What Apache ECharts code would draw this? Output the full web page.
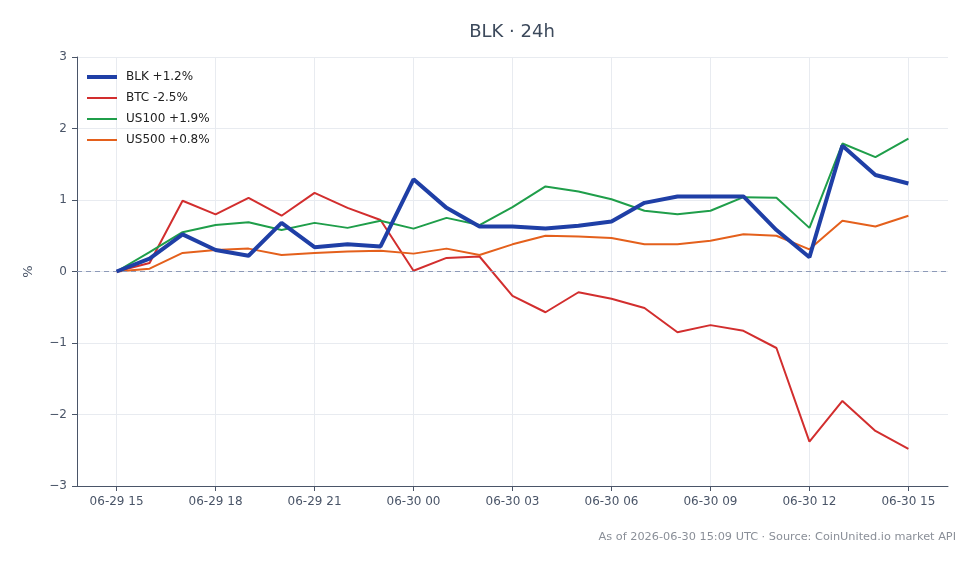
<!DOCTYPE html>
<html>
<head>
<meta charset="utf-8">
<title>BLK · 24h</title>
<script src="https://cdn.jsdelivr.net/npm/echarts@6/dist/echarts.min.js"></script>
<style>
  html, body { margin: 0; padding: 0; background: #fff; }
  #chart { width: 980px; height: 564px; }
</style>
</head>
<body>
<div id="chart"></div>
<script>
// hourly points, 06-29 15:00 -> 06-30 15:00
var hours = ['06-29 15', '06-29 16', '06-29 17', '06-29 18', '06-29 19', '06-29 20', '06-29 21',
  '06-29 22', '06-29 23', '06-30 00', '06-30 01', '06-30 02', '06-30 03', '06-30 04', '06-30 05',
  '06-30 06', '06-30 07', '06-30 08', '06-30 09', '06-30 10', '06-30 11', '06-30 12', '06-30 13',
  '06-30 14', '06-30 15'];
var tickHours = [0, 3, 6, 9, 12, 15, 18, 21, 24];

var seriesNames = ['BLK +1.2%', 'BTC -2.5%', 'US100 +1.9%', 'US500 +0.8%'];
var blk = [0, 0.18, 0.52, 0.30, 0.22, 0.68, 0.34, 0.38, 0.35, 1.29, 0.89, 0.63, 0.63, 0.60, 0.64,
  0.70, 0.96, 1.05, 1.05, 1.05, 0.58, 0.20, 1.76, 1.35, 1.23];
var btc = [0, 0.12, 0.99, 0.80, 1.03, 0.78, 1.10, 0.89, 0.72, 0.01, 0.19, 0.21, -0.34, -0.57, -0.29,
  -0.38, -0.51, -0.85, -0.75, -0.83, -1.07, -2.38, -1.81, -2.23, -2.48];
var us100 = [0, 0.27, 0.55, 0.65, 0.69, 0.58, 0.68, 0.61, 0.71, 0.60, 0.75, 0.65, 0.90, 1.19, 1.12,
  1.01, 0.85, 0.80, 0.85, 1.04, 1.03, 0.61, 1.79, 1.60, 1.86];
var us500 = [0, 0.04, 0.26, 0.30, 0.32, 0.23, 0.26, 0.28, 0.29, 0.25, 0.32, 0.23, 0.38, 0.50, 0.49,
  0.47, 0.38, 0.38, 0.43, 0.52, 0.50, 0.31, 0.71, 0.63, 0.78];

var colors = ['#1f3fa6', '#d22e2e', '#1f9e4a', '#e4601c'];
var widths = [4, 2, 2, 2];

function pairs(arr) {
  return arr.map(function (v, i) { return [i, v]; });
}

var axisColor = '#4a5568';
var chart = echarts.init(document.getElementById('chart'));

var series = [blk, btc, us100, us500].map(function (arr, k) {
  return {
    name: seriesNames[k],
    type: 'line',
    data: pairs(arr),
    showSymbol: false,
    symbol: 'none',
    z: k === 0 ? 5 : 3,
    lineStyle: { color: colors[k], width: widths[k] },
    itemStyle: { color: colors[k] }
  };
});
// dashed zero line
series[0].markLine = {
  silent: true,
  symbol: 'none',
  label: { show: false },
  lineStyle: { color: '#8d9ab8', type: [5, 4], width: 1 },
  data: [{ yAxis: 0 }]
};

// one legend per entry so each icon can have its own thickness
var legends = seriesNames.map(function (name, k) {
  return {
    data: [name],
    left: 82,
    top: 66 + k * 21,
    icon: 'rect',
    itemWidth: 30,
    itemHeight: widths[k],
    itemGap: 0,
    selectedMode: false,
    textStyle: { fontSize: 12, color: '#222', padding: [0, 0, 0, 4] }
  };
});

var option = {
  animation: false,
  textStyle: { fontFamily: 'DejaVu Sans' },
  title: [{
    text: 'BLK · 24h',
    left: 507,
    top: 18,
    textAlign: 'center',
    textStyle: { fontSize: 18, fontWeight: 'normal', color: '#3d4a5c' }
  }, {
    text: 'As of 2026-06-30 15:09 UTC · Source: CoinUnited.io market API',
    right: 19,
    top: 527,
    textStyle: { fontSize: 11.3, fontWeight: 'normal', color: '#8a8f98' }
  }],
  legend: legends,
  grid: { left: 77, right: 32, top: 57, bottom: 78, containLabel: false },
  xAxis: {
    type: 'value',
    min: -1.2,
    max: 25.2,
    axisLine: { show: true, onZero: false, lineStyle: { color: axisColor, width: 1 } },
    axisTick: { show: true, customValues: tickHours, length: 5, lineStyle: { color: axisColor } },
    axisLabel: {
      customValues: tickHours,
      margin: 10,
      fontSize: 12,
      color: axisColor,
      formatter: function (v) { return hours[Math.round(v)]; }
    },
    splitLine: { show: true, lineStyle: { color: '#e8ebf0', width: 1 } }
  },
  yAxis: {
    type: 'value',
    min: -3,
    max: 3,
    interval: 1,
    name: '%',
    nameLocation: 'middle',
    nameGap: 42,
    nameRotate: 90,
    nameTextStyle: { fontSize: 13, color: axisColor },
    axisLine: { show: true, onZero: false, lineStyle: { color: axisColor, width: 1 } },
    axisTick: { show: true, length: 5, lineStyle: { color: axisColor } },
    axisLabel: {
      fontSize: 12,
      margin: 10,
      color: axisColor,
      formatter: function (v) { return v < 0 ? '\u2212' + Math.abs(v) : String(v); }
    },
    splitLine: { show: true, lineStyle: { color: '#e8ebf0', width: 1 } }
  },
  series: series
};

chart.setOption(option);
</script>
</body>
</html>
